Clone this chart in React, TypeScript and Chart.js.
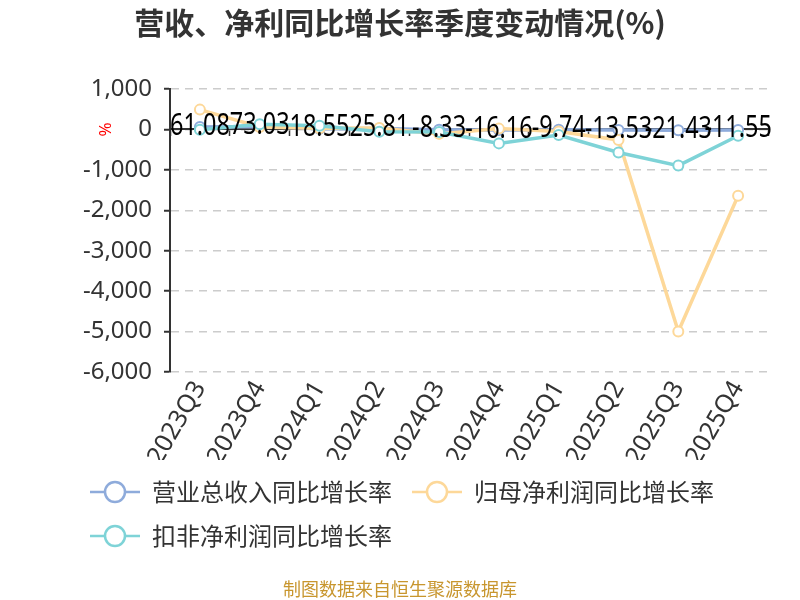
import React, { useEffect, useRef } from "react";
import { Chart, registerables } from "chart.js";

Chart.register(...registerables);

const categories = ["2023Q3", "2023Q4", "2024Q1", "2024Q2", "2024Q3", "2024Q4", "2025Q1", "2025Q2", "2025Q3", "2025Q4"];
const revenueGrowth = [61.08, 73.03, 18.55, 25.81, -8.33, -16.16, -9.74, -13.53, -21.43, -11.55];
const netProfitGrowth = [490, 60, 30, 35, -110, 20, -50, -260, -5000, -1640];
const deductedProfitGrowth = [-10, 130, 90, -55, -65, -345, -140, -570, -895, -155];

const seriesNames = ["营业总收入同比增长率", "归母净利润同比增长率", "扣非净利润同比增长率"];
const seriesColors = ["#8EABDB", "#FDD899", "#7ED3D7"];
const titleText = "营收、净利同比增长率季度变动情况(%)";
const footerText = "制图数据来自恒生聚源数据库";
const yMin = -6000;
const yMax = 1000;
const yStep = 1000;

function makeIcon(color: string): HTMLCanvasElement {
  const c = document.createElement("canvas");
  c.width = 50;
  c.height = 26;
  const g = c.getContext("2d")!;
  g.strokeStyle = color;
  g.lineWidth = 2.5;
  g.beginPath();
  g.moveTo(0, 13);
  g.lineTo(50, 13);
  g.stroke();
  g.beginPath();
  g.arc(25, 13, 10, 0, Math.PI * 2);
  g.fillStyle = "#fff";
  g.fill();
  g.stroke();
  return c;
}

const valueLabelPlugin = {
  id: "valueLabels",
  afterDatasetsDraw(chart: any) {
    const meta = chart.getDatasetMeta(0);
    const ctx = chart.ctx;
    ctx.save();
    ctx.font = '30px "Noto Sans", sans-serif';
    ctx.fillStyle = "#000";
    ctx.textAlign = "center";
    ctx.textBaseline = "middle";
    meta.data.forEach((pt: any, i: number) => {
      ctx.save();
      ctx.translate(pt.x, pt.y - 1);
      ctx.scale(0.78, 1);
      ctx.fillText(revenueGrowth[i].toFixed(2), 0, 0);
      ctx.restore();
    });
    ctx.restore();
  },
};

const textPlugin = {
  id: "texts",
  afterDraw(chart: any) {
    const y = chart.scales.y;
    const ctx = chart.ctx;
    ctx.save();
    ctx.translate(y.left + 36, y.getPixelForValue(0));
    ctx.rotate(-Math.PI / 2);
    ctx.font = '17px "Noto Sans", sans-serif';
    ctx.fillStyle = "#ff0000";
    ctx.textAlign = "center";
    ctx.textBaseline = "middle";
    ctx.fillText("%", 0, 0);
    ctx.restore();

    ctx.save();
    ctx.textAlign = "center";
    ctx.textBaseline = "middle";
    ctx.fillStyle = "#333";
    ctx.font = 'bold 30px "Noto Sans CJK SC", sans-serif';
    ctx.fillText(titleText, chart.width / 2, 23);
    ctx.fillStyle = "#C8962E";
    ctx.font = '18px "Noto Sans CJK SC", sans-serif';
    ctx.fillText(footerText, chart.width / 2, chart.height - 11);
    ctx.restore();
  },
};

export default function App() {
  const ref = useRef<HTMLCanvasElement>(null);

  useEffect(() => {
    if (!ref.current) return;
    const icons = seriesColors.map(makeIcon);
    const dataSeries = [revenueGrowth, netProfitGrowth, deductedProfitGrowth];
    const chart = new Chart(ref.current, {
      type: "line",
      data: {
        labels: categories,
        datasets: dataSeries.map((d, i) => ({
          label: seriesNames[i],
          data: d,
          borderColor: seriesColors[i],
          backgroundColor: seriesColors[i],
          borderWidth: 3.5,
          pointRadius: 5,
          pointHoverRadius: 5,
          pointBorderWidth: 2,
          pointBackgroundColor: "#fff",
          pointBorderColor: seriesColors[i],
          tension: 0,
          order: 3 - i,
          xAxisID: "x",
          yAxisID: "y",
        })),
      },
      options: {
        responsive: false,
        animation: false,
        layout: { padding: { left: 70, right: 32, top: 89, bottom: 42 } },
        plugins: {
          title: { display: false },
          legend: {
            position: "bottom",
            align: "start",
            labels: {
              usePointStyle: true,
              pointStyleWidth: 50,
              padding: 20,
              color: "#333",
              font: { size: 24, family: '"Noto Sans CJK SC", sans-serif' },
              sort: (a: any, b: any) => a.datasetIndex - b.datasetIndex,
              generateLabels: (c: any) => {
                const items = (Chart.defaults.plugins.legend.labels as any).generateLabels(c);
                return items.map((it: any) => ({ ...it, pointStyle: icons[it.datasetIndex], fontColor: "#333" }));
              },
            },
          },
          tooltip: { enabled: false },
        },
        scales: {
          x: {
            type: "category",
            position: "bottom",
            offset: true,
            grid: { display: false, drawTicks: false },
            border: { display: false },
            ticks: {
              color: "#333",
              font: { size: 25, family: '"Noto Sans", sans-serif' },
              maxRotation: 60,
              minRotation: 60,
              autoSkip: false,
              padding: 4,
            },
            afterFit: (s: any) => {
              s.height = 88;
            },
          },
          x0: {
            type: "category",
            position: { y: 0 },
            offset: true,
            grid: { offset: true, drawOnChartArea: false, drawTicks: true, tickLength: 6, tickColor: "#333", tickWidth: 1.5 },
            border: { display: true, color: "#333", width: 2 },
            ticks: { display: false },
          },
          y: {
            min: yMin,
            max: yMax,
            ticks: {
              stepSize: yStep,
              color: "#333",
              font: { size: 24, family: '"Noto Sans", sans-serif' },
              padding: 12,
              callback: (v: any) => Number(v).toLocaleString("en-US"),
            },
            grid: { color: "#ccc", lineWidth: 1.5, tickColor: "#333", tickLength: 6, tickWidth: 2 },
            border: { display: true, color: "#333", width: 2, dash: [8, 6] },
            afterFit: (s: any) => {
              s.width = 100;
            },
          },
        } as any,
      },
      plugins: [valueLabelPlugin, textPlugin],
    } as any);
    return () => chart.destroy();
  }, []);

  return (
    <div style={{ position: "absolute", left: 0, top: 0, width: 800, height: 600, background: "#fff" }}>
      <canvas ref={ref} width={800} height={600} style={{ display: "block" }} />
    </div>
  );
}
